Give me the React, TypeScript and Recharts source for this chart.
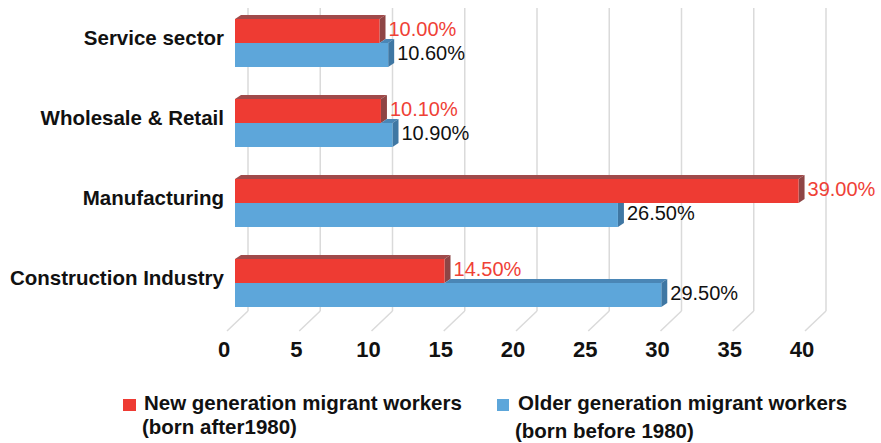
import React from 'react';
import { BarChart, Bar, XAxis, YAxis, Legend, LabelList, CartesianGrid } from 'recharts';

const categories = ['Service sector', 'Wholesale & Retail', 'Manufacturing', 'Construction Industry'];
const newGenValues = [10.0, 10.1, 39.0, 14.5];
const oldGenValues = [10.6, 10.9, 26.5, 29.5];
const xTicks = [0, 5, 10, 15, 20, 25, 30, 35, 40];
const seriesNames = ['New generation migrant workers', 'Older generation migrant workers'];
const seriesSubNames = ['(born after1980)', '(born before 1980)'];

const data = categories.map((c, i) => ({ category: c, newGen: newGenValues[i], oldGen: oldGenValues[i] }));

const FONT = '"Liberation Sans", Arial, Helvetica, sans-serif';
const RED = '#EE3B33';
const RED_TOP = '#A04A4A';
const RED_SIDE = '#8E4545';
const BLUE = '#5DA6DA';
const BLUE_TOP = '#4A86B6';
const BLUE_SIDE = '#3F77A3';
const DX = 6;
const DY = 4;
const GRID_TOP = 8;
const GRID_BOTTOM = 311;
const BACK = 13;

const pts = (a: number[][]) => a.map((p) => p.join(',')).join(' ');

const RedShape = (props: any) => {
  const { x, y, width, height } = props;
  const xe = x + width;
  return (
    <g>
      <polygon points={pts([[x, y], [x + DX, y - DY], [xe + DX, y - DY], [xe, y]])} fill={RED_TOP} />
      <polygon points={pts([[xe, y], [xe + DX, y - DY], [xe + DX, y + height - DY], [xe, y + height]])} fill={RED_SIDE} />
      <rect x={x} y={y} width={width} height={height} fill={RED} />
    </g>
  );
};

const BlueShape = (props: any) => {
  const { x, y, width, height, payload } = props;
  const xb = x + width;
  const redEnd = x + (width * payload.newGen) / payload.oldGen;
  const xs = Math.max(x, redEnd);
  const sideTop = xb + DX <= redEnd ? y : y - DY;
  return (
    <g>
      {xs < xb && (
        <polygon points={pts([[xs, y], [xs + DX, y - DY], [xb + DX, y - DY], [xb, y]])} fill={BLUE_TOP} />
      )}
      <polygon points={pts([[xb, y], [xb + DX, sideTop], [xb + DX, y + height - DY], [xb, y + height]])} fill={BLUE_SIDE} />
      <rect x={x} y={y} width={width} height={height} fill={BLUE} />
    </g>
  );
};

const GridLine = (props: any) => {
  const { x1 } = props;
  return (
    <g>
      <line x1={x1 + BACK} y1={GRID_TOP} x2={x1 + BACK} y2={GRID_BOTTOM} stroke="#DADADA" strokeWidth={1.5} />
      <line x1={x1 + BACK} y1={GRID_BOTTOM} x2={x1 - 8} y2={GRID_BOTTOM + 20} stroke="#DADADA" strokeWidth={1.5} />
    </g>
  );
};

const XTick = (props: any) => {
  const { x, payload } = props;
  return (
    <text x={x - 11} y={357} textAnchor="middle" fontFamily={FONT} fontWeight="bold" fontSize={22} fill="#111">
      {payload.value}
    </text>
  );
};

const YTick = (props: any) => {
  const { y, payload } = props;
  return (
    <text x={224} y={y + 2} textAnchor="end" fontFamily={FONT} fontWeight="bold" fontSize={20.5} fill="#111">
      {payload.value}
    </text>
  );
};

const makeLabel = (color: string) => (props: any) => {
  const { x, y, width, value } = props;
  return (
    <text x={x + width + 9} y={y + 17} fontFamily={FONT} fontSize={20} fill={color}>
      {Number(value).toFixed(2)}%
    </text>
  );
};

const LegendContent = () => {
  const textStyle: React.CSSProperties = {
    position: 'absolute',
    fontFamily: FONT,
    fontWeight: 'bold',
    fontSize: 20.5,
    lineHeight: '23.5px',
    color: '#111',
    whiteSpace: 'nowrap',
  };
  return (
    <div style={{ position: 'relative', width: 881, height: 60 }}>
      <div style={{ position: 'absolute', left: 123, top: 16, width: 13, height: 12, background: RED }} />
      <div style={{ ...textStyle, left: 144, top: 8 }}>
        {seriesNames[0]}
        <br />
        <span style={{ marginLeft: -2 }}>{seriesSubNames[0]}</span>
      </div>
      <div style={{ position: 'absolute', left: 497, top: 16, width: 12, height: 12, background: BLUE }} />
      <div style={{ ...textStyle, left: 518, top: 8 }}>{seriesNames[1]}</div>
      <div style={{ ...textStyle, left: 515, top: 36 }}>{seriesSubNames[1]}</div>
    </div>
  );
};

export default function App() {
  return (
    <div style={{ position: 'absolute', left: 0, top: 0, width: 881, height: 443, background: '#fff' }}>
      <BarChart
        width={881}
        height={443}
        data={data}
        layout="vertical"
        margin={{ top: 3, right: 68, bottom: 0, left: 0 }}
        barSize={24}
        barGap={0}
      >
        <CartesianGrid horizontal={false} vertical={<GridLine />} />
        <XAxis
          type="number"
          domain={[0, 40]}
          ticks={xTicks}
          axisLine={false}
          tickLine={false}
          height={60}
          tick={<XTick />}
          interval={0}
        />
        <YAxis
          type="category"
          dataKey="category"
          width={235}
          axisLine={false}
          tickLine={false}
          tick={<YTick />}
          interval={0}
        />
        <Legend verticalAlign="bottom" height={60} content={<LegendContent />} />
        <Bar dataKey="newGen" name={seriesNames[0]} fill={RED} shape={RedShape} isAnimationActive={false}>
          <LabelList dataKey="newGen" content={makeLabel('#EF4136')} />
        </Bar>
        <Bar dataKey="oldGen" name={seriesNames[1]} fill={BLUE} shape={BlueShape} isAnimationActive={false}>
          <LabelList dataKey="oldGen" content={makeLabel('#111')} />
        </Bar>
      </BarChart>
    </div>
  );
}
